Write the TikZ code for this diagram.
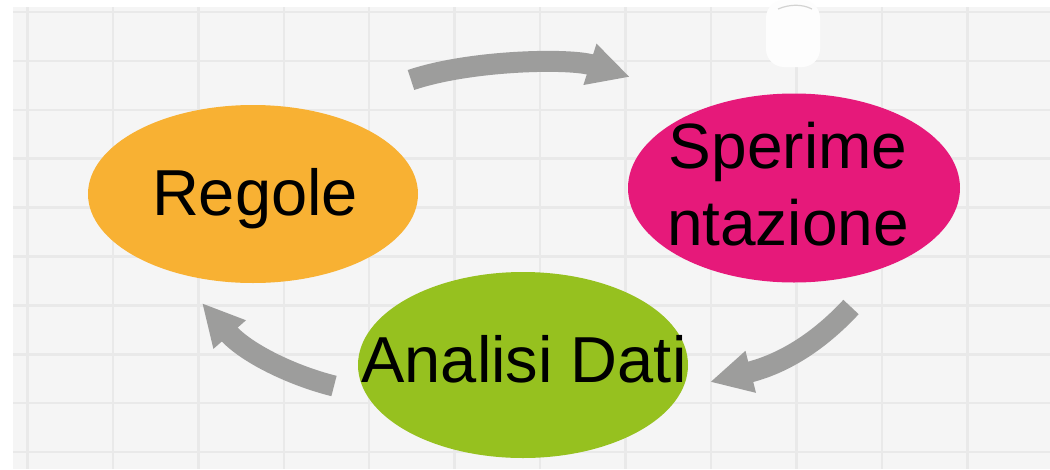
\documentclass[tikz,border=0pt]{standalone}
\usepackage{fontspec}
\setmainfont{Liberation Sans}
\usetikzlibrary{arrows.meta,shapes.geometric}
\definecolor{bgcell}{HTML}{F5F5F5}
\definecolor{gridline}{HTML}{E9E9E9}
\definecolor{arrowgray}{HTML}{9D9D9C}
\definecolor{orangeR}{HTML}{F8B133}
\definecolor{magentaS}{HTML}{E6197A}
\definecolor{greenA}{HTML}{96C11F}
\tikzset{
  ell/.style={ellipse, inner sep=0pt, draw=none},
  lbl/.style={font=\fontsize{65}{78}\selectfont, inner sep=0pt, text=black},
  cyclearrow/.style={draw=arrowgray, line width=21pt,
    -{Triangle[length=42pt,width=40pt]}, fill=none},
}
\begin{document}
\begin{tikzpicture}[x=1pt,y=-1pt]
\useasboundingbox (0,0) rectangle (1050,469);
\fill[white] (0,0) rectangle (1050,469);
\begin{scope}
\clip (13,7) rectangle (1050,469);
\fill[bgcell] (13,7) rectangle (1050,469);
\foreach \i in {0,...,12}
  \draw[gridline, line width=2.5pt] ({27.4+85.45*\i},7) -- ({27.4+85.45*\i},469);
\foreach \j in {0,...,9}
  \draw[gridline, line width=2.5pt] (13,{12+48.9*\j}) -- (1050,{12+48.9*\j});
\end{scope}
% pale patch at top
\fill[white!85!bgcell, rounded corners=18pt] (766,0) rectangle (820,67);
\draw[arrowgray!45, line width=1.2pt] (778,9) .. controls (790,4) and (802,4) .. (812,9);

% ellipses
\node[ell, fill=orangeR, minimum width=330pt, minimum height=178pt] (reg) at (253,194) {};
\node[ell, fill=magentaS, minimum width=332pt, minimum height=189pt] (spe) at (794,188) {};
\node[ell, fill=greenA, minimum width=330pt, minimum height=186pt] (ana) at (523,365) {};

% labels
\node[lbl, anchor=base] (regt) at (255,215) {Regole};
\node[lbl, font=\fontsize{64}{77}\selectfont, align=center] (spet) at (788,184) {Sperime\\ntazione};
\node[lbl, anchor=base] (anat) at (524,382) {Analisi Dati};

% arrow end points
\coordinate (a1s) at (411,80);
\coordinate (a1e) at (630,77);
\coordinate (a2s) at (851,307);
\coordinate (a2e) at (710,382);
\coordinate (a3s) at (334,386);
\coordinate (a3e) at (202,303);

\draw[cyclearrow] (a1s) .. controls (470,60) and (570,58) .. (a1e);
\draw[cyclearrow] (a2s) .. controls (825,335) and (790,362) .. (a2e);
\draw[cyclearrow] (a3s) .. controls (290,375) and (245,352) .. (a3e);
\end{tikzpicture}
\end{document}
